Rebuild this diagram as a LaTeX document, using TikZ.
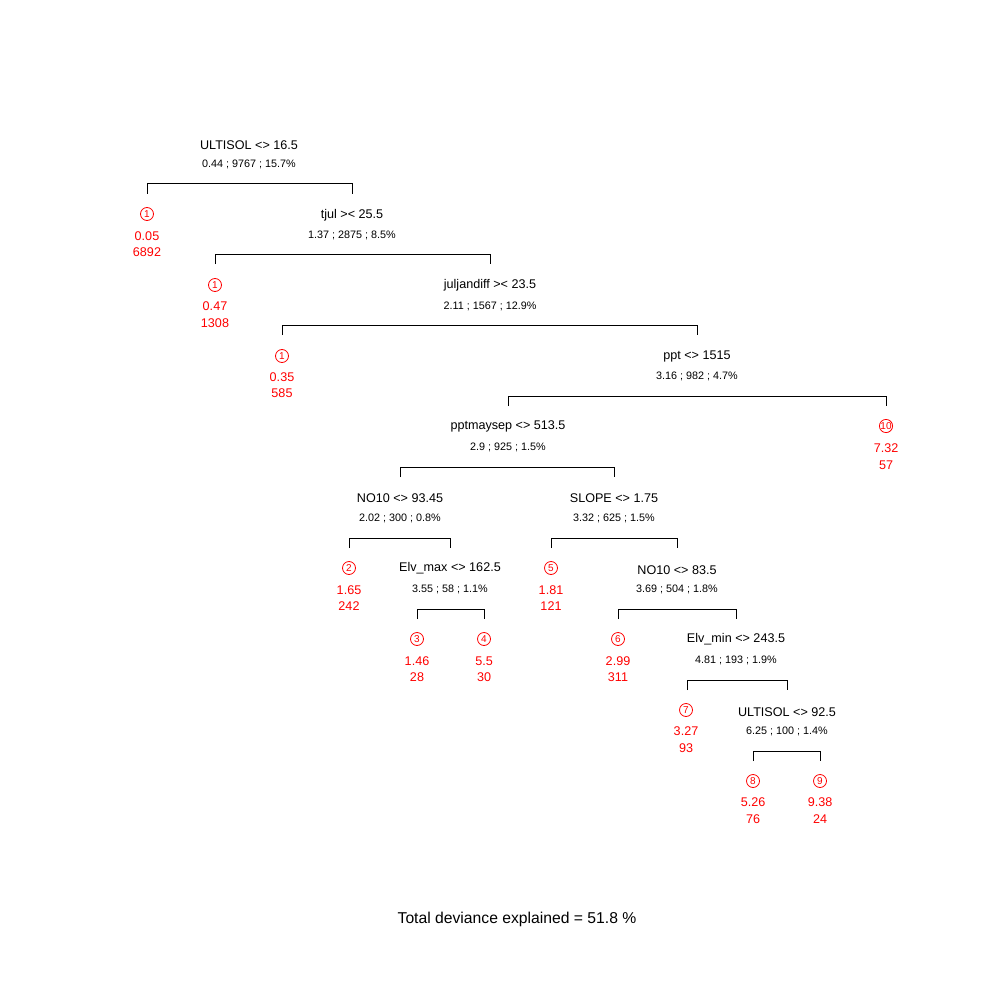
\documentclass[tikz,border=0pt]{standalone}
\usepackage{fontspec}
\setmainfont{Liberation Sans}
\begin{document}
\begin{tikzpicture}[x=1pt,y=-1pt,
  lbl/.style={inner sep=0pt,font=\fontsize{12.6}{14}\selectfont},
  stat/.style={inner sep=0pt,font=\fontsize{10.8}{12}\selectfont},
  val/.style={inner sep=0pt,text=red,font=\fontsize{12.6}{14}\selectfont},
  circ/.style={circle,draw=red,text=red,line width=0.8pt,inner sep=0pt,minimum size=13pt,font=\fontsize{10}{10}\selectfont},
  br/.style={line width=1pt}]
\useasboundingbox (0,0) rectangle (1000,1000);
% split nodes
\node[lbl] (n1) at (249,145) {ULTISOL <> 16.5};
\node[stat] (n1s) at (249,164) {0.44 ; 9767 ; 15.7\%};
\node[lbl] (n2) at (352,215) {tjul >< 25.5};
\node[stat] (n2s) at (352,235) {1.37 ; 2875 ; 8.5\%};
\node[lbl] (n3) at (490,285) {juljandiff >< 23.5};
\node[stat] (n3s) at (490,306) {2.11 ; 1567 ; 12.9\%};
\node[lbl] (n4) at (697,356) {ppt <> 1515};
\node[stat] (n4s) at (697,376) {3.16 ; 982 ; 4.7\%};
\node[lbl] (n5) at (508,426) {pptmaysep <> 513.5};
\node[stat] (n5s) at (508,447) {2.9 ; 925 ; 1.5\%};
\node[lbl] (n6) at (400,498) {NO10 <> 93.45};
\node[stat] (n6s) at (400,518) {2.02 ; 300 ; 0.8\%};
\node[lbl] (n7) at (450,568) {Elv\_max <> 162.5};
\node[stat] (n7s) at (450,589) {3.55 ; 58 ; 1.1\%};
\node[lbl] (n8) at (614,498) {SLOPE <> 1.75};
\node[stat] (n8s) at (614,518) {3.32 ; 625 ; 1.5\%};
\node[lbl] (n9) at (677,570) {NO10 <> 83.5};
\node[stat] (n9s) at (677,589) {3.69 ; 504 ; 1.8\%};
\node[lbl] (n10) at (736,639) {Elv\_min <> 243.5};
\node[stat] (n10s) at (736,660) {4.81 ; 193 ; 1.9\%};
\node[lbl] (n11) at (787,712) {ULTISOL <> 92.5};
\node[stat] (n11s) at (787,731) {6.25 ; 100 ; 1.4\%};
% leaves
\node[circ] (l1) at (147,214) {1};
\node[val] (l1a) at (147,236) {0.05};
\node[val] (l1b) at (147,252) {6892};
\node[circ] (l2) at (215,285) {1};
\node[val] (l2a) at (215,306) {0.47};
\node[val] (l2b) at (215,323) {1308};
\node[circ] (l3) at (282,356) {1};
\node[val] (l3a) at (282,377) {0.35};
\node[val] (l3b) at (282,393) {585};
\node[circ] (l10) at (886,426) {10};
\node[val] (l10a) at (886,448) {7.32};
\node[val] (l10b) at (886,465) {57};
\node[circ] (lb2) at (349,568) {2};
\node[val] (lb2a) at (349,590) {1.65};
\node[val] (lb2b) at (349,606) {242};
\node[circ] (lb3) at (417,639) {3};
\node[val] (lb3a) at (417,661) {1.46};
\node[val] (lb3b) at (417,677) {28};
\node[circ] (lb4) at (484,639) {4};
\node[val] (lb4a) at (484,661) {5.5};
\node[val] (lb4b) at (484,677) {30};
\node[circ] (lb5) at (551,568) {5};
\node[val] (lb5a) at (551,590) {1.81};
\node[val] (lb5b) at (551,606) {121};
\node[circ] (lb6) at (618,639) {6};
\node[val] (lb6a) at (618,661) {2.99};
\node[val] (lb6b) at (618,677) {311};
\node[circ] (lb7) at (686,710) {7};
\node[val] (lb7a) at (686,731) {3.27};
\node[val] (lb7b) at (686,748) {93};
\node[circ] (lb8) at (753,781) {8};
\node[val] (lb8a) at (753,802) {5.26};
\node[val] (lb8b) at (753,819) {76};
\node[circ] (lb9) at (820,781) {9};
\node[val] (lb9a) at (820,802) {9.38};
\node[val] (lb9b) at (820,819) {24};
% bracket ends
\coordinate (b1l) at (147,194); \coordinate (b1r) at (352,194);
\coordinate (b2l) at (215,264); \coordinate (b2r) at (490,264);
\coordinate (b3l) at (282,335); \coordinate (b3r) at (697,335);
\coordinate (b4l) at (508,406); \coordinate (b4r) at (886,406);
\coordinate (b5l) at (400,477); \coordinate (b5r) at (614,477);
\coordinate (b6l) at (349,548); \coordinate (b6r) at (450,548);
\coordinate (b7l) at (417,619); \coordinate (b7r) at (484,619);
\coordinate (b8l) at (551,548); \coordinate (b8r) at (677,548);
\coordinate (b9l) at (618,619); \coordinate (b9r) at (736,619);
\coordinate (b10l) at (687,690); \coordinate (b10r) at (787,690);
\coordinate (b11l) at (753,761); \coordinate (b11r) at (820,761);
\foreach \i in {1,...,11}{
  \draw[br] (b\i l) -- ++(0,-10) -| (b\i r);
}
\node[lbl,font=\fontsize{15.7}{18}\selectfont] (title) at (517,919) {Total deviance explained = 51.8 \%};
\end{tikzpicture}
\end{document}
